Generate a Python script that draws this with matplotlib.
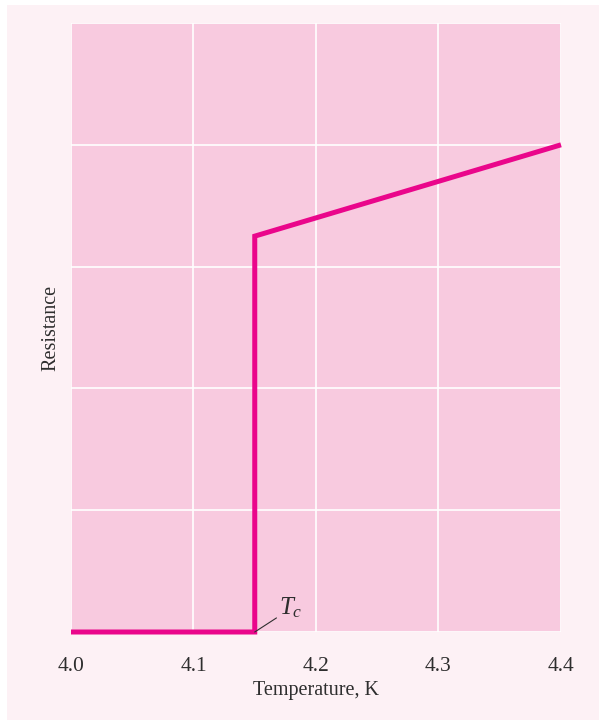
import matplotlib
matplotlib.use("Agg")
import matplotlib.pyplot as plt
from matplotlib.patches import Rectangle

# Resistance of a superconductor vs temperature
temperature = [4.00, 4.15, 4.15, 4.40]
resistance = [0.0, 0.0, 3.25, 4.0]
x_ticks = [4.0, 4.1, 4.2, 4.3, 4.4]
x_tick_labels = ["4.0", "4.1", "4.2", "4.3", "4.4"]
y_grid = [0, 1, 2, 3, 4, 5]
tc_value = 4.15

panel_color = "#fdf1f5"
axes_color = "#f8cadf"
line_color = "#ea068b"
text_color = "#2e2e2e"

plt.rcParams["font.family"] = ["Liberation Serif", "DejaVu Serif"]
plt.rcParams["mathtext.fontset"] = "custom"
plt.rcParams["mathtext.it"] = "Liberation Serif:italic"
plt.rcParams["mathtext.rm"] = "Liberation Serif"

W, H = 599, 721
fig = plt.figure(figsize=(W / 100, H / 100), dpi=100)
fig.patch.set_facecolor("white")
fig.patches.append(Rectangle((7 / W, 1 / H), 1 - 7 / W, 1 - 6 / H,
                             transform=fig.transFigure, facecolor=panel_color,
                             edgecolor="none", zorder=-10))

left, right, top, bottom = 71, 561, 23, 632
ax = fig.add_axes([left / W, (H - bottom) / H, (right - left) / W, (bottom - top) / H])
ax.set_facecolor(axes_color)
for s in ax.spines.values():
    s.set_visible(False)

ax.set_xlim(4.0, 4.4)
ax.set_ylim(0, 5)
ax.set_xticks(x_ticks)
ax.set_xticklabels(x_tick_labels, fontsize=15.5, color=text_color)
ax.set_yticks(y_grid)
ax.set_yticklabels([])
ax.tick_params(length=0, pad=18)
ax.grid(True, color="white", linewidth=1.2)
ax.set_axisbelow(True)

ax.plot(temperature, resistance, color=line_color, linewidth=3.6,
        solid_joinstyle="miter", solid_capstyle="butt", clip_on=False, zorder=3)

ax.annotate(r"$T_c$", xy=(tc_value, 0), xytext=(tc_value + 0.02, 0.1),
            fontsize=18, color=text_color, ha="left", va="bottom",
            arrowprops=dict(arrowstyle="-", color=text_color, lw=0.8,
                            shrinkA=0, shrinkB=0,
                            relpos=(0.0, 0.15)))

ax.set_xlabel("Temperature, K", fontsize=14.5, color=text_color)
ax.xaxis.set_label_coords(0.5, -0.08)
ax.set_ylabel("Resistance", fontsize=14.5, color=text_color)
ax.yaxis.set_label_coords(-0.021, 0.5)

fig.savefig("out.png", dpi=100, facecolor=fig.get_facecolor())
